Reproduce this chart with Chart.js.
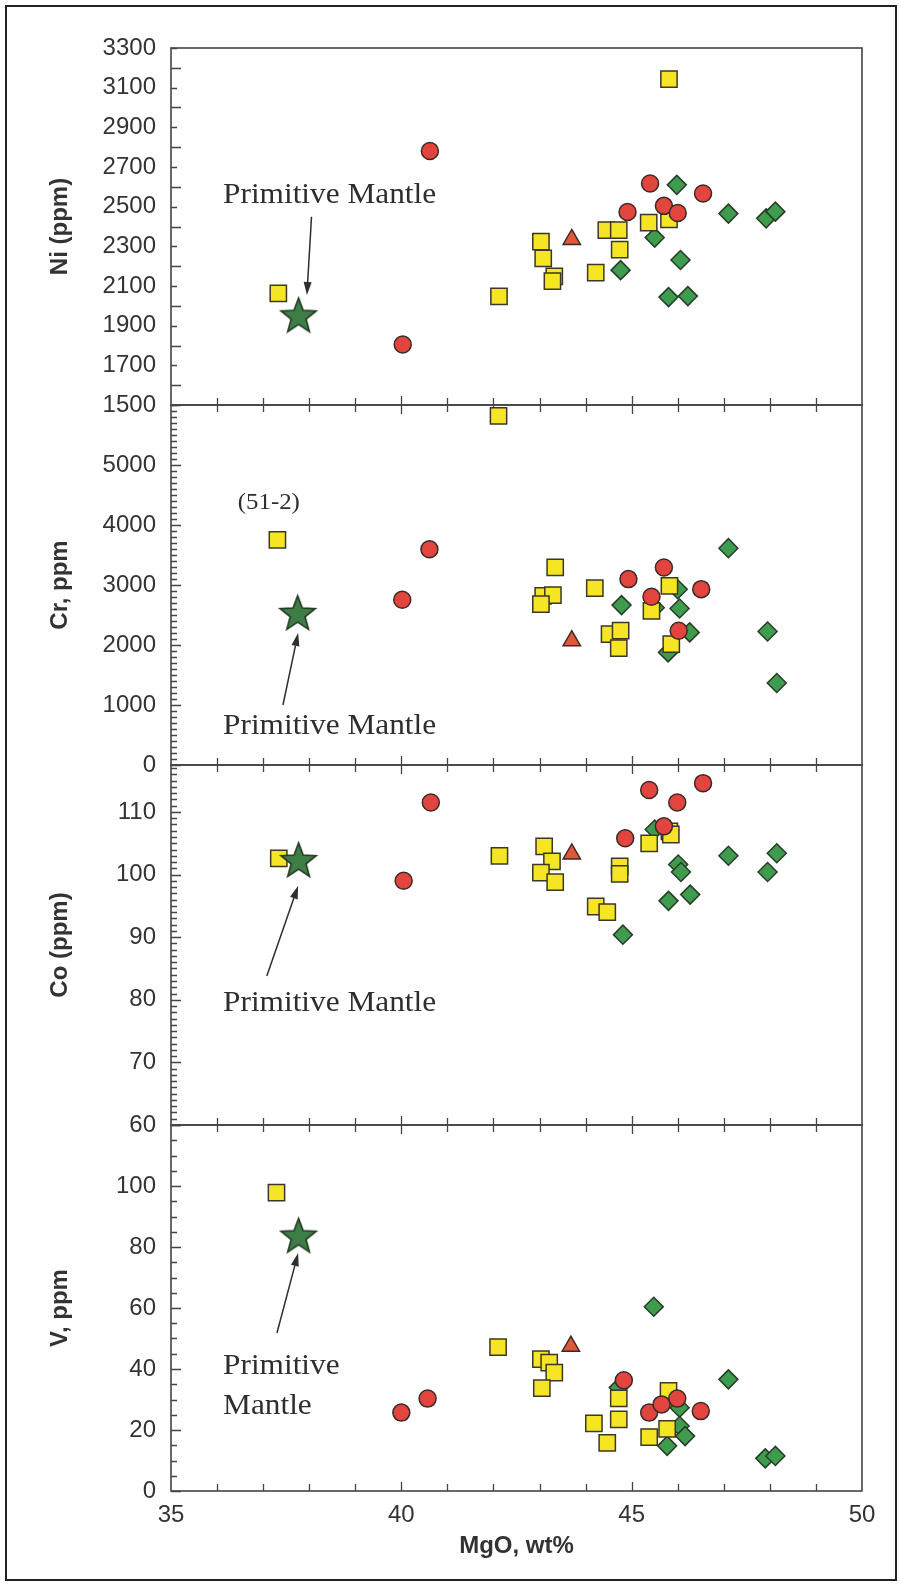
<!DOCTYPE html>
<html>
<head>
<meta charset="utf-8">
<title>Ni, Cr, Co, V vs MgO</title>
<script src="https://cdn.jsdelivr.net/npm/chart.js@4/dist/chart.umd.min.js"></script>
<style>
  html, body { margin: 0; padding: 0; background: #fff; }
  #fig { position: relative; width: 901px; height: 1586px; overflow: hidden; background: #fff; }
  #frame { position: absolute; left: 5px; top: 5px; width: 892px; height: 1576px; border: 2px solid #222; box-sizing: border-box; }
  canvas { position: absolute; left: 0; }
</style>
</head>
<body>
<div id="fig">
  <div id="frame"></div>
  <canvas id="cNi" width="901" height="437" style="top:0px"></canvas>
  <canvas id="cCr" width="901" height="424" style="top:373px"></canvas>
  <canvas id="cCo" width="901" height="424" style="top:733px"></canvas>
  <canvas id="cV" width="901" height="493" style="top:1093px"></canvas>
</div>
<script>
// ---- Data: [MgO wt%, element ppm] ----
const niSquares  = [[37.33,2063],[42.12,2048],[45.81,3143],[43.03,2324],[43.08,2239],[43.32,2148],[43.28,2125],[44.22,2167],[44.45,2382],[44.72,2382],[44.74,2283],[45.37,2420],[45.81,2436]];
const niCircles  = [[40.62,2781],[40.03,1805],[45.40,2617],[44.91,2473],[45.70,2504],[46.00,2468],[46.55,2566]];
const niTriangle = [[43.70,2335]];
const niDiamonds = [[45.98,2610],[47.10,2465],[47.92,2441],[48.12,2475],[45.50,2344],[46.06,2231],[44.76,2180],[45.80,2044],[46.22,2049]];
const niStar     = [[37.77,1955]];

const crSquares  = [[42.11,5817],[37.31,3753],[43.34,3292],[44.20,2948],[43.08,2820],[43.29,2830],[43.03,2681],[45.82,2987],[45.43,2570],[44.52,2182],[44.76,2240],[44.72,1949],[45.86,2016]];
const crCircles  = [[40.61,3597],[40.02,2754],[45.70,3292],[44.93,3098],[46.51,2931],[45.43,2804],[46.02,2238]];
const crTriangle = [[43.70,2071]];
const crDiamonds = [[47.10,3614],[44.78,2665],[46.04,2609],[46.00,2930],[46.26,2210],[47.95,2226],[48.15,1366],[45.79,1877],[45.50,2620]];
const crStar     = [[37.75,2543]];

const coSquares  = [[37.34,102.6],[42.13,103.0],[43.10,104.5],[43.27,102.1],[43.03,100.3],[43.34,98.8],[44.22,94.9],[44.47,94.0],[44.74,101.3],[44.74,100.1],[45.38,105.0],[45.82,106.9],[45.85,106.4]];
const coCircles  = [[40.64,111.5],[40.05,99.0],[45.38,113.5],[45.99,111.5],[46.55,114.6],[45.70,107.7],[44.86,105.8]];
const coTriangle = [[43.70,103.3]];
const coDiamonds = [[47.10,103.0],[48.15,103.4],[47.95,100.4],[46.01,101.6],[46.07,100.4],[45.80,95.8],[46.27,96.8],[44.81,90.4],[45.50,107.2]];
const coStar     = [[37.77,102.4]];

const vSquares   = [[37.29,97.8],[42.10,47.2],[43.03,43.2],[43.21,42.1],[43.32,38.8],[43.05,33.7],[44.72,30.4],[44.72,23.5],[44.18,22.2],[44.47,15.8],[45.38,17.7],[45.77,20.4],[45.80,32.8]];
const vCircles   = [[40.00,25.7],[40.57,30.3],[44.83,36.3],[45.38,25.7],[45.65,28.4],[45.99,30.3],[46.50,26.2]];
const vTriangle  = [[43.68,47.5]];
const vDiamonds  = [[45.48,60.4],[47.10,36.6],[46.04,27.3],[46.04,21.3],[46.16,18.0],[45.77,14.8],[47.90,10.7],[48.12,11.5],[44.72,33.9]];
const vStar      = [[37.77,83.9]];

// ---- Axis tick labels ----
const mgoTicks = [35, 40, 45, 50];
const niTicks  = [1500, 1700, 1900, 2100, 2300, 2500, 2700, 2900, 3100, 3300];
const crTicks  = [0, 1000, 2000, 3000, 4000, 5000];
const coTicks  = [60, 70, 80, 90, 100, 110];
const vTicks   = [0, 20, 40, 60, 80, 100];

// ---- Look ----
const SANS = '"Liberation Sans", Arial, sans-serif';
const SERIF = '"Liberation Serif", "Times New Roman", serif';
const INK = '#333';
const PLOT_LEFT = 171, PLOT_RIGHT = 862, W = 901;

function makeStar(outer, inner, fill, stroke) {
  const c = document.createElement('canvas');
  const s = Math.ceil(outer * 2 + 4);
  c.width = s; c.height = s;
  const g = c.getContext('2d');
  const cx = s / 2, cy = s / 2 + outer * 0.1;
  g.beginPath();
  for (let i = 0; i < 10; i++) {
    const r = i % 2 === 0 ? outer : inner;
    const a = -Math.PI / 2 + i * Math.PI / 5;
    const px = cx + r * Math.cos(a), py = cy + r * Math.sin(a);
    i === 0 ? g.moveTo(px, py) : g.lineTo(px, py);
  }
  g.closePath();
  g.fillStyle = fill; g.fill();
  g.lineWidth = 1.6; g.strokeStyle = stroke; g.stroke();
  return c;
}
const starImg = makeStar(18.5, 7.8, '#3f7d47', '#243826');

const STYLES = {
  star:     { pointStyle: starImg, pointRadius: 18 },
  triangle: { pointStyle: 'triangle', pointRadius: 10, backgroundColor: '#e0573a', borderColor: '#3b2b28', borderWidth: 1.5 },
  circle:   { pointStyle: 'circle', pointRadius: 8.5, backgroundColor: '#e2443e', borderColor: '#3b2b28', borderWidth: 1.5 },
  square:   { pointStyle: 'rect', pointRadius: 11.5, backgroundColor: '#f5e524', borderColor: '#3a3826', borderWidth: 1.5 },
  diamond:  { pointStyle: 'rectRot', pointRadius: 9.5, backgroundColor: '#3f9b4d', borderColor: '#283c2a', borderWidth: 1.5 }
};

function series(label, pts, kind) {
  return Object.assign({
    label: label,
    data: pts.map(p => ({ x: p[0], y: p[1] })),
    showLine: false,
    clip: false
  }, STYLES[kind]);
}

// frame, inside ticks and MgO ticks on each panel boundary, then notes and arrows
const panelDecor = {
  id: 'panelDecor',
  beforeDatasetsDraw(chart, args, opts) {
    const { ctx, chartArea: a, scales: { x, y } } = chart;
    ctx.save();
    ctx.strokeStyle = '#444';
    ctx.lineWidth = 1.6;
    ctx.strokeRect(a.left, a.top, a.right - a.left, a.bottom - a.top);
    ctx.lineWidth = 1.3;
    ctx.beginPath();
    const eps = 1e-6;
    for (let v = y.min; v <= y.max + eps; v += opts.minor) {
      const major = Math.abs(v / opts.major - Math.round(v / opts.major)) < 1e-6;
      const py = Math.round(y.getPixelForValue(v)) + 0.5;
      ctx.moveTo(a.left, py);
      ctx.lineTo(a.left + (major ? 10 : 6), py);
    }
    for (let m = 36; m < 50; m++) {
      const px = Math.round(x.getPixelForValue(m)) + 0.5;
      const len = m % 5 === 0 ? 9 : 7;
      ctx.moveTo(px, a.bottom - len);
      ctx.lineTo(px, opts.cross ? a.bottom + len : a.bottom);
    }
    ctx.stroke();
    ctx.restore();
  },
  afterDatasetsDraw(chart, args, opts) {
    const { ctx, scales: { x, y } } = chart;
    ctx.save();
    ctx.fillStyle = '#2e2e2e';
    ctx.textBaseline = 'middle';
    ctx.textAlign = 'left';
    (opts.texts || []).forEach(t => {
      const tx = x.getPixelForValue(t.x), ty = y.getPixelForValue(t.y);
      ctx.save();
      ctx.translate(tx, ty);
      ctx.scale(1.08, 1);
      ctx.font = (t.size || 29) + 'px ' + SERIF;
      ctx.fillText(t.text, 0, 0);
      ctx.restore();
    });
    (opts.arrows || []).forEach(ar => {
      const x0 = x.getPixelForValue(ar.from[0]), y0 = y.getPixelForValue(ar.from[1]);
      const x1 = x.getPixelForValue(ar.to[0]), y1 = y.getPixelForValue(ar.to[1]);
      const ang = Math.atan2(y1 - y0, x1 - x0);
      const hl = 13, hw = 4;
      const bx = x1 - hl * Math.cos(ang), by = y1 - hl * Math.sin(ang);
      ctx.strokeStyle = '#2e2e2e';
      ctx.lineWidth = 1.5;
      ctx.beginPath();
      ctx.moveTo(x0, y0);
      ctx.lineTo(bx, by);
      ctx.stroke();
      ctx.beginPath();
      ctx.moveTo(x1, y1);
      ctx.lineTo(bx + hw * Math.sin(ang), by - hw * Math.cos(ang));
      ctx.lineTo(bx - hw * Math.sin(ang), by + hw * Math.cos(ang));
      ctx.closePath();
      ctx.fill();
    });
    ctx.restore();
  }
};

function panel(id, p) {
  const showX = !!p.showX;
  return new Chart(document.getElementById(id), {
    type: 'scatter',
    data: {
      datasets: [
        series('Primitive Mantle', p.star, 'star'),
        series('triangle', p.triangle, 'triangle'),
        series('circles', p.circles, 'circle'),
        series('squares', p.squares, 'square'),
        series('diamonds', p.diamonds, 'diamond')
      ]
    },
    options: {
      responsive: false,
      animation: false,
      events: [],
      layout: {
        autoPadding: false,
        padding: { left: 0, right: W - PLOT_RIGHT, top: p.padTop, bottom: p.padBottom }
      },
      plugins: {
        legend: { display: false },
        tooltip: { enabled: false },
        panelDecor: { minor: p.minor, major: p.major, cross: !showX, texts: p.texts, arrows: p.arrows }
      },
      scales: {
        x: {
          type: 'linear',
          min: 35, max: 50,
          display: showX,
          afterBuildTicks: s => { s.ticks = mgoTicks.map(v => ({ value: v })); },
          afterFit: s => { s.height = showX ? 95 : 0; },
          grid: { display: false, drawTicks: false },
          border: { display: false },
          ticks: { color: INK, font: { family: SANS, size: 24 }, padding: 10, maxRotation: 0, autoSkip: false, callback: v => String(v) },
          title: { display: showX, text: 'MgO, wt%', color: INK, font: { family: SANS, size: 24, weight: 'bold' }, padding: { top: 0, bottom: 25 } }
        },
        y: {
          type: 'linear',
          min: p.min, max: p.max,
          afterBuildTicks: s => { s.ticks = p.ticks.map(v => ({ value: v })); },
          afterFit: s => { s.width = PLOT_LEFT; },
          grid: { display: false, drawTicks: false },
          border: { display: false },
          ticks: { color: INK, font: { family: SANS, size: 24 }, padding: 15, autoSkip: false, callback: v => String(v) },
          title: { display: true, text: p.title, color: INK, font: { family: SANS, size: 24, weight: 'bold' }, padding: { top: 46, bottom: 0 } }
        }
      }
    },
    plugins: [panelDecor]
  });
}

panel('cNi', {
  title: 'Ni (ppm)', min: 1500, max: 3300, ticks: niTicks, minor: 100, major: 200,
  padTop: 48, padBottom: 32,
  squares: niSquares, circles: niCircles, triangle: niTriangle, diamonds: niDiamonds, star: niStar,
  texts: [{ text: 'Primitive Mantle', x: 36.13, y: 2559 }],
  arrows: [{ from: [38.05, 2449], to: [37.95, 2055] }]
});

panel('cCr', {
  title: 'Cr, ppm', min: 0, max: 6000, ticks: crTicks, minor: 100, major: 1000,
  padTop: 32, padBottom: 32,
  squares: crSquares, circles: crCircles, triangle: crTriangle, diamonds: crDiamonds, star: crStar,
  texts: [{ text: '(51-2)', x: 36.45, y: 4367, size: 23 }, { text: 'Primitive Mantle', x: 36.13, y: 650 }],
  arrows: [{ from: [37.43, 1000], to: [37.76, 2200] }]
});

panel('cCo', {
  title: 'Co (ppm)', min: 60, max: 117.5, ticks: coTicks, minor: 1, major: 10,
  padTop: 32, padBottom: 32,
  squares: coSquares, circles: coCircles, triangle: coTriangle, diamonds: coDiamonds, star: coStar,
  texts: [{ text: 'Primitive Mantle', x: 36.13, y: 79.5 }],
  arrows: [{ from: [37.08, 83.8], to: [37.76, 98.2] }]
});

panel('cV', {
  title: 'V, ppm', min: 0, max: 120, ticks: vTicks, minor: 5, major: 20,
  padTop: 32, padBottom: 0, showX: true,
  squares: vSquares, circles: vCircles, triangle: vTriangle, diamonds: vDiamonds, star: vStar,
  texts: [{ text: 'Primitive', x: 36.13, y: 41 }, { text: 'Mantle', x: 36.13, y: 27.9 }],
  arrows: [{ from: [37.30, 51.8], to: [37.76, 78] }]
});
</script>
</body>
</html>
